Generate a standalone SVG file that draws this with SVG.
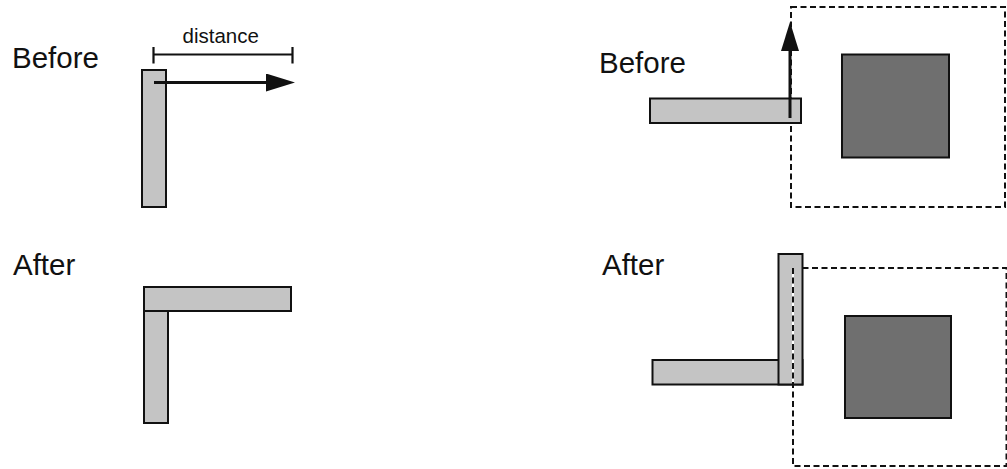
<svg xmlns="http://www.w3.org/2000/svg" width="1007" height="469" viewBox="0 0 1007 469">
<style>
.lbl{font-family:"Liberation Sans",Arial,Helvetica,sans-serif;font-size:29.5px;fill:#111}
.small{font-family:"Liberation Sans",Arial,Helvetica,sans-serif;font-size:20.5px;fill:#111}
.bar{fill:#c4c4c4;stroke:#111;stroke-width:2}
.block{fill:#6f6f6f;stroke:#111;stroke-width:2}
.dash{fill:none;stroke:#111;stroke-width:2;stroke-dasharray:6 3.5}
.arrow{stroke:#111;stroke-width:3;fill:none}
.dim{stroke:#111;stroke-width:2.2;fill:none}
</style>
<defs>
<marker id="ah" viewBox="0 0 29 18" refX="0" refY="9" markerWidth="29" markerHeight="18" markerUnits="userSpaceOnUse" orient="auto">
<path d="M0,0 L29,9 L0,18 Z" fill="#111"/>
</marker>
</defs>
<rect width="1007" height="469" fill="#fff"/>
<g id="labels">
<text class="lbl" x="12" y="68">Before</text>
<text class="lbl" x="13" y="275">After</text>
<text class="lbl" x="599" y="73">Before</text>
<text class="lbl" x="602" y="275">After</text>
</g>
<g id="before-left">
<rect class="bar" x="142" y="70" width="24" height="137"/>
</g>
<g id="after-left">
<rect class="bar" x="144" y="287" width="24" height="136"/>
<rect class="bar" x="144" y="287" width="147" height="24"/>
</g>
<g id="before-right">
<rect class="dash" x="791" y="7" width="214" height="200"/>
<rect class="block" x="842" y="54.5" width="107" height="103"/>
<rect class="bar" x="650" y="98.5" width="151" height="24.5"/>
</g>
<g id="after-right">
<rect class="dash" x="793" y="268" width="213.5" height="198"/>
<rect class="block" x="845" y="316" width="106" height="102"/>
<rect class="bar" x="652.5" y="360" width="150" height="24.5"/>
<rect class="bar" x="778.5" y="254" width="24" height="130.5"/>
<line x1="793" y1="268" x2="793" y2="384" stroke="#fff" stroke-width="2"/>
<line class="dash" x1="793" y1="268" x2="793" y2="384"/>
</g>
<g id="connectors">
<text class="small" x="182.5" y="42.5">distance</text>
<path class="dim" d="M153.5,47 V63.5 M153.5,54.5 H292.5 M292.5,47 V63.5"/>
<line class="arrow" x1="154" y1="82.5" x2="266" y2="82.5" marker-end="url(#ah)"/>
<line class="arrow" x1="790" y1="118" x2="790" y2="51" marker-end="url(#ah)"/>
</g>
</svg>
